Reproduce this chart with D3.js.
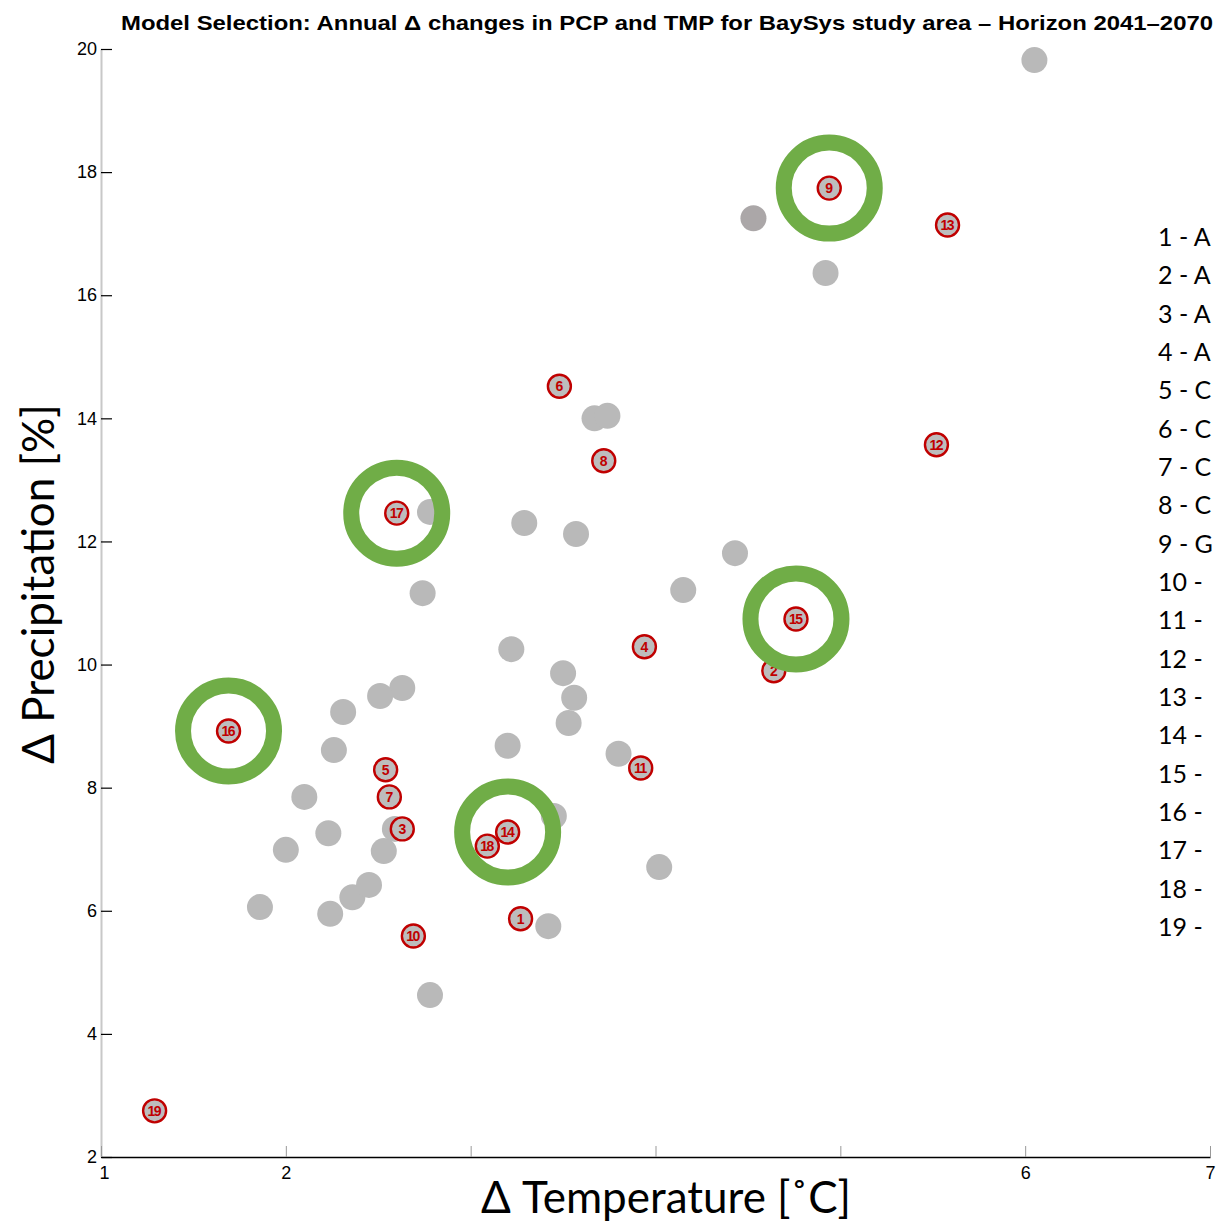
<!DOCTYPE html>
<html>
<head>
<meta charset="utf-8">
<script src="https://cdn.jsdelivr.net/npm/d3@7"></script>
<style>
  body { margin: 0; background: #fff; }
  svg { display: block; }
</style>
</head>
<body>
<svg id="chart" width="1217" height="1222"></svg>
<script>
// ---- data ----
const titleText = "Model Selection: Annual \u0394 changes in PCP and TMP for BaySys study area \u2013 Horizon 2041\u20132070";
const xLabel = "\u0394 Temperature [\u02DAC]";
const yLabel = "\u0394 Precipitation [%]";

const xTicks = [1, 2, 3, 4, 5, 6, 7];
const xTickLabels = ["1", "2", "", "", "", "6", "7"];
const yTicks = [2, 4, 6, 8, 10, 12, 14, 16, 18, 20];

// unselected ensemble members (gray)
const grayTemp = [6.05, 4.92, 3.67, 3.74, 3.29, 3.57, 2.78, 2.74, 4.43, 4.15, 3.22, 3.50, 3.56, 3.53, 3.20, 3.80, 2.63, 2.51, 2.31, 2.26, 2.10, 2.23, 2.00, 2.53, 2.59, 1.86, 2.24, 2.36, 2.45, 3.45, 4.02, 3.42, 2.78];
const grayPcp  = [19.82, 16.36, 14.00, 14.04, 12.30, 12.12, 12.48, 11.16, 11.81, 11.21, 10.25, 9.86, 9.46, 9.05, 8.68, 8.55, 9.62, 9.49, 9.23, 8.61, 7.85, 7.26, 6.99, 6.97, 7.33, 6.06, 5.95, 6.22, 6.42, 7.54, 6.71, 5.75, 4.63];

// one member drawn in a darker gray
const darkTemp = [4.53];
const darkPcp  = [17.25];

// numbered models
const modelIds  = [1, 2, 3, 4, 5, 6, 7, 8, 9, 10, 11, 12, 13, 14, 15, 16, 17, 18, 19];
const modelTemp = [3.27, 4.64, 2.63, 3.94, 2.54, 3.48, 2.56, 3.72, 4.94, 2.69, 3.92, 5.52, 5.58, 3.20, 4.76, 1.69, 2.60, 3.09, 1.29];
const modelPcp  = [5.87, 9.90, 7.33, 10.29, 8.29, 14.52, 7.85, 13.31, 17.74, 5.59, 8.32, 13.57, 17.14, 7.28, 10.74, 8.92, 12.46, 7.05, 2.75];

// selected models (green rings)
const selectedIds = [9, 15, 17, 16, 14];

const legendLabels = ["1 - A", "2 - A", "3 - A", "4 - A", "5 - C", "6 - C", "7 - C", "8 - C", "9 - G", "10 -", "11 -", "12 -", "13 -", "14 -", "15 -", "16 -", "17 -", "18 -", "19 -"];

// ---- drawing ----
const svg = d3.select("#chart");
const x = d3.scaleLinear().domain([1, 7]).range([101, 1210]);
const y = d3.scaleLinear().domain([2, 20]).range([1157, 49]);

// title
svg.append("text")
  .attr("x", 121).attr("y", 30)
  .attr("textLength", 1092).attr("lengthAdjust", "spacingAndGlyphs")
  .style("font-family", "'Liberation Sans', Arial, sans-serif")
  .style("font-weight", "bold").style("font-size", "21px")
  .attr("fill", "#000")
  .text(titleText);

// y axis
const yAxis = svg.append("g").attr("transform", "translate(101,0)")
  .call(d3.axisLeft(y).tickValues(yTicks).tickSizeInner(-11).tickSizeOuter(0).tickPadding(4).tickFormat(d3.format("d")));
yAxis.select(".domain").attr("stroke", "#c8c8c8").attr("stroke-width", 2);
yAxis.selectAll(".tick line").attr("stroke", "#000").attr("stroke-width", 1.2);
yAxis.selectAll(".tick text").style("font-family", "'Liberation Sans', Arial, sans-serif").style("font-size", "18px").attr("fill", "#000");

// x axis
const xAxis = svg.append("g").attr("transform", "translate(0,1157)")
  .call(d3.axisBottom(x).tickValues(xTicks).tickSizeInner(-11).tickSizeOuter(0).tickPadding(9).tickFormat((d, i) => xTickLabels[i]));
xAxis.select(".domain").attr("stroke", "#000").attr("stroke-width", 1.5);
xAxis.selectAll(".tick line").attr("stroke", "#999").attr("stroke-width", 1);
xAxis.selectAll(".tick text").style("font-family", "'Liberation Sans', Arial, sans-serif").style("font-size", "18px").attr("fill", "#000");
xAxis.selectAll(".tick text").filter((d) => d === 1).attr("dx", 3);

// axis labels
svg.append("text")
  .attr("x", 666).attr("y", 1213)
  .attr("text-anchor", "middle")
  .style("font-family", "Lato, 'Open Sans', sans-serif").style("font-size", "44px")
  .attr("fill", "#000")
  .text(xLabel);

svg.append("text")
  .attr("transform", "translate(54,584) rotate(-90)")
  .attr("text-anchor", "middle")
  .style("font-family", "Lato, 'Open Sans', sans-serif").style("font-size", "44px")
  .attr("fill", "#000")
  .text(yLabel);

// gray points
svg.append("g").selectAll("circle")
  .data(d3.range(grayTemp.length))
  .join("circle")
  .attr("cx", i => x(grayTemp[i]))
  .attr("cy", i => y(grayPcp[i]))
  .attr("r", 13)
  .attr("fill", "#b9b9b9");

svg.append("g").selectAll("circle")
  .data(d3.range(darkTemp.length))
  .join("circle")
  .attr("cx", i => x(darkTemp[i]))
  .attr("cy", i => y(darkPcp[i]))
  .attr("r", 13)
  .attr("fill", "#aba7a8");

// numbered models
const mg = svg.append("g").selectAll("g")
  .data(d3.range(modelIds.length))
  .join("g")
  .attr("transform", i => `translate(${x(modelTemp[i])},${y(modelPcp[i])})`);
mg.append("circle")
  .attr("r", 11.5)
  .attr("fill", "#bdbdbd")
  .attr("stroke", "#c00000")
  .attr("stroke-width", 2.4);
mg.append("text")
  .attr("text-anchor", "middle")
  .attr("dy", "0.36em")
  .style("font-family", "'Liberation Sans', Arial, sans-serif")
  .style("font-size", "14px")
  .style("font-weight", "bold")
  .style("letter-spacing", i => modelIds[i] >= 10 ? "-1.5px" : "0px")
  .attr("dx", i => modelIds[i] >= 10 ? -0.75 : 0)
  .attr("fill", "#c00000")
  .text(i => modelIds[i]);

// green rings on selected
svg.append("g").selectAll("circle")
  .data(selectedIds)
  .join("circle")
  .attr("cx", id => x(modelTemp[modelIds.indexOf(id)]))
  .attr("cy", id => y(modelPcp[modelIds.indexOf(id)]))
  .attr("r", 45.5)
  .attr("fill", "none")
  .attr("stroke", "#70ad47")
  .attr("stroke-width", 16);

// legend (right side)
svg.append("g").selectAll("text")
  .data(legendLabels)
  .join("text")
  .attr("x", 1158)
  .attr("y", (d, i) => 246 + i * 38.33)
  .style("font-family", "Lato, 'Open Sans', sans-serif")
  .style("font-size", "25px")
  .attr("fill", "#000")
  .text(d => d);
</script>
</body>
</html>
